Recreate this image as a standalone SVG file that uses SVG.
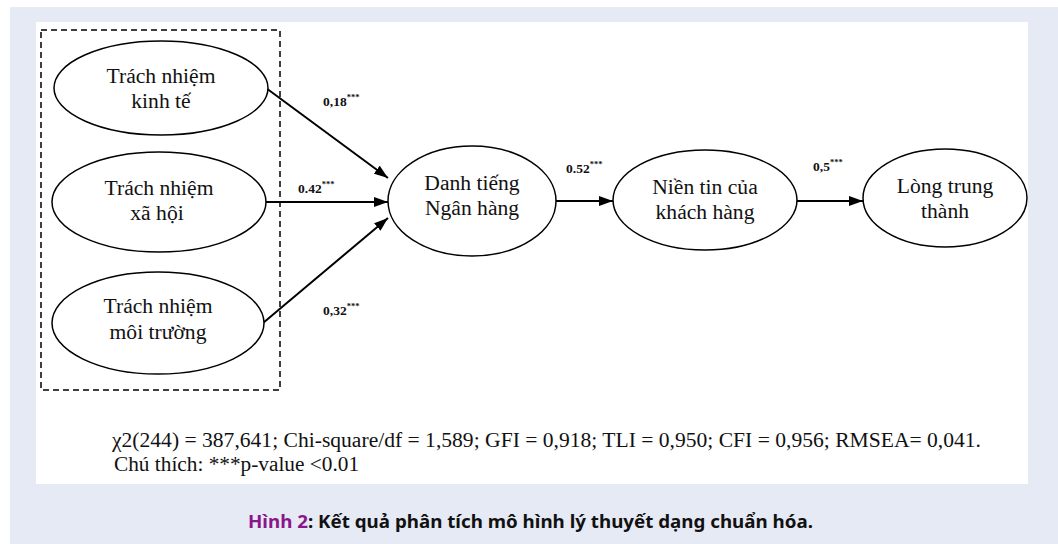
<svg xmlns="http://www.w3.org/2000/svg" width="1058" height="544" viewBox="0 0 1058 544">
<defs>
<marker id="arr" viewBox="0 0 14 10" refX="14" refY="5" markerWidth="14" markerHeight="10" markerUnits="userSpaceOnUse" orient="auto">
<path d="M0,0 L14,5 L0,10 Z" fill="#000"/>
</marker>
</defs>
<style>
.node ellipse{fill:#fff;stroke:#000;stroke-width:1.5}
.node text{font-family:"Liberation Serif","Times New Roman",serif;font-size:21.6px;fill:#111;text-anchor:middle}
.conn line{stroke:#000;stroke-width:2;marker-end:url(#arr)}
.lbl{font-family:"Liberation Serif","Times New Roman",serif;font-size:13.5px;font-weight:bold;fill:#111}
.sup{font-size:8.5px}
.foot{font-family:"Liberation Serif","Times New Roman",serif;font-size:21.3px;fill:#111}
.cap{font-family:"Noto Sans","Open Sans",sans-serif;font-size:17.5px;font-weight:bold;fill:#111}
</style>
<rect x="0" y="0" width="1058" height="544" fill="#fff"/>
<rect x="10" y="7" width="1048" height="537" fill="#E6EAF5"/>
<rect x="36" y="22" width="992" height="462" fill="#fff"/>
<rect id="group-box" x="41" y="30" width="239" height="360" fill="none" stroke="#000" stroke-width="1.5" stroke-dasharray="6,4"/>
<g class="conn" id="connectors">
<line x1="266" y1="88" x2="388" y2="178"/>
<line x1="266" y1="202" x2="388" y2="202"/>
<line x1="263" y1="323" x2="388" y2="218"/>
<line x1="556" y1="201" x2="613" y2="201"/>
<line x1="797" y1="201" x2="863" y2="201"/>
</g>
<g id="labels">
<text class="lbl" x="323" y="106">0,18<tspan class="sup" dy="-6">***</tspan></text>
<text class="lbl" x="298" y="193">0.42<tspan class="sup" dy="-6">***</tspan></text>
<text class="lbl" x="323" y="315">0,32<tspan class="sup" dy="-6">***</tspan></text>
<text class="lbl" x="566" y="173">0.52<tspan class="sup" dy="-6">***</tspan></text>
<text class="lbl" x="813" y="171">0,5<tspan class="sup" dy="-6">***</tspan></text>
</g>
<g class="node" id="node-kinhte">
<ellipse cx="161" cy="88" rx="107" ry="47"/>
<text x="161" y="83">Trách nhiệm</text>
<text x="161" y="108">kinh tế</text>
</g>
<g class="node" id="node-xahoi">
<ellipse cx="159" cy="202" rx="107" ry="50"/>
<text x="159" y="195">Trách nhiệm</text>
<text x="157" y="220">xã hội</text>
</g>
<g class="node" id="node-moitruong">
<ellipse cx="158" cy="323" rx="106" ry="51"/>
<text x="158" y="313">Trách nhiệm</text>
<text x="158" y="339">môi trường</text>
</g>
<g class="node" id="node-danhtieng">
<ellipse cx="472" cy="201" rx="84" ry="55"/>
<text x="472" y="190">Danh tiếng</text>
<text x="472" y="215">Ngân hàng</text>
</g>
<g class="node" id="node-niemtin">
<ellipse cx="705" cy="200" rx="92" ry="50"/>
<text x="705" y="194">Niền tin của</text>
<text x="705" y="219">khách hàng</text>
</g>
<g class="node" id="node-long">
<ellipse cx="945" cy="198" rx="82" ry="49"/>
<text x="945" y="193">Lòng trung</text>
<text x="945" y="218">thành</text>
</g>
<text class="foot" x="112" y="447" textLength="869" lengthAdjust="spacingAndGlyphs">χ2(244) = 387,641; Chi-square/df = 1,589; GFI = 0,918; TLI = 0,950; CFI = 0,956; RMSEA= 0,041.</text>
<text class="foot" x="114" y="471">Chú thích: ***p-value &lt;0.01</text>
<text class="cap" x="248" y="528" textLength="565" lengthAdjust="spacingAndGlyphs"><tspan fill="#8B168B">Hình 2</tspan>: Kết quả phân tích mô hình lý thuyết dạng chuẩn hóa.</text>
</svg>
